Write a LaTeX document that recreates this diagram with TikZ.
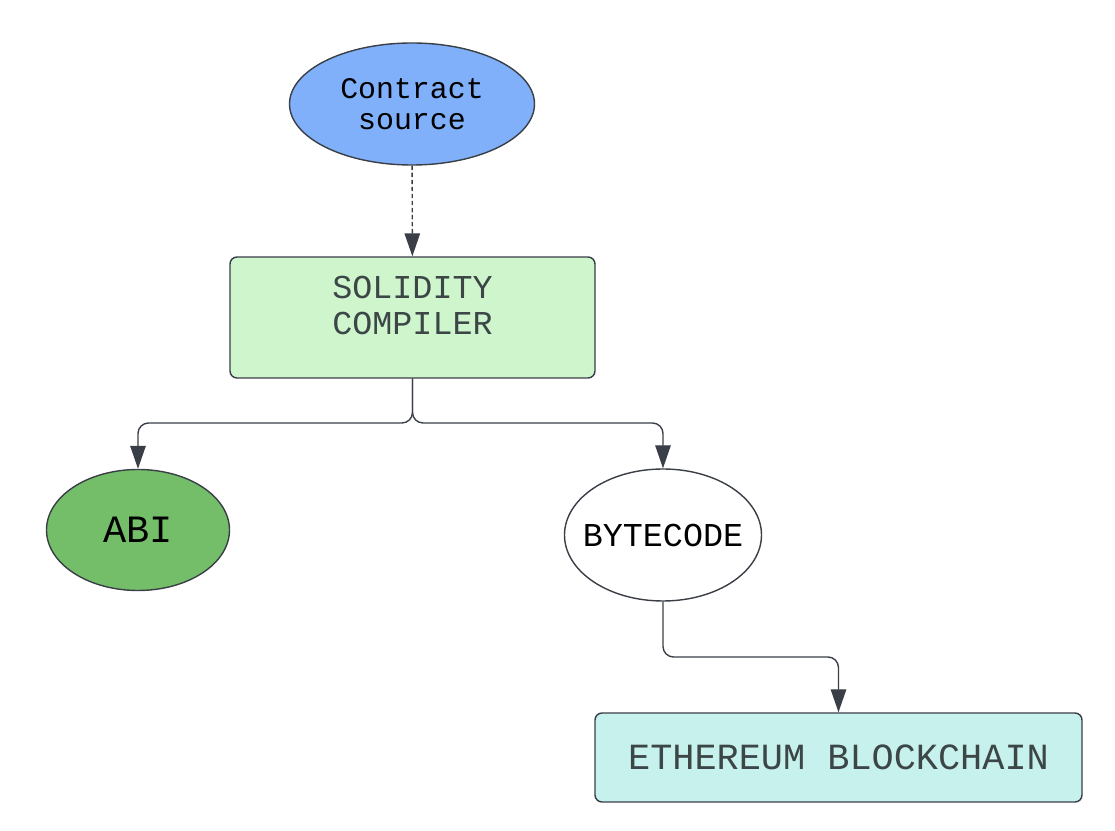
\documentclass[tikz,border=0pt]{standalone}
\usepackage{fontspec}
\setmonofont{Liberation Mono}
\usetikzlibrary{arrows.meta,shapes.geometric}

\definecolor{bleu}{RGB}{127,176,249}
\definecolor{vertclair}{RGB}{206,245,204}
\definecolor{vertabi}{RGB}{116,190,106}
\definecolor{cyanclair}{RGB}{198,241,236}
\definecolor{trait}{RGB}{58,63,71}
\definecolor{texte}{RGB}{60,70,70}

\begin{document}
\begin{tikzpicture}[
  forme/.style={draw=trait, line width=0.8pt, inner sep=0pt, font=\ttfamily},
  boite/.style={forme, rectangle, rounded corners=4pt, text=texte},
  bulle/.style={forme, ellipse},
  fleche/.style={draw=trait, line width=0.8pt, rounded corners=6pt,
    -{Triangle[length=0.46cm, width=0.31cm]}}
]
\useasboundingbox (0,0) rectangle (22.3,16.62);

% Sommets du schema
\node[bulle, fill=bleu, minimum width=4.9cm, minimum height=2.44cm, align=center,
  font=\ttfamily\fontsize{17}{18}\selectfont] (source) at (8.24,14.54) {Contract\\source};
\node[boite, fill=vertclair, minimum width=7.3cm, minimum height=2.42cm,
  label={[yshift=0.24cm, align=center, text=texte, font=\ttfamily\fontsize{19}{20}\selectfont]center:SOLIDITY\\COMPILER}]
  (compilo) at (8.25,10.27) {};
\node[bulle, fill=vertabi, minimum width=3.66cm, minimum height=2.42cm,
  font=\ttfamily\fontsize{22}{24}\selectfont] (abi) at (2.76,6.02) {ABI};
\node[bulle, fill=white, minimum width=3.94cm, minimum height=2.64cm,
  font=\ttfamily\fontsize{19}{20}\selectfont] (bytecode) at (13.26,5.92) {\makebox[0pt]{BYTECODE}};
\node[boite, fill=cyanclair, minimum width=9.74cm, minimum height=1.78cm,
  font=\ttfamily\fontsize{21}{22}\selectfont] (chaine) at (16.77,1.47) {ETHEREUM BLOCKCHAIN};

% Points de coude
\coordinate (fourche) at (8.25,8.16);
\coordinate (coude) at (13.26,3.48);

% Arcs
\draw[fleche, dash pattern=on 2.5pt off 1.5pt] (source) -- (compilo);
\draw[fleche] (compilo.south) -- (fourche) -| (abi.north);
\draw[fleche] (compilo.south) -- (fourche) -| (bytecode.north);
\draw[fleche] (bytecode.south) -- (coude) -| (chaine.north);

\end{tikzpicture}
\end{document}
